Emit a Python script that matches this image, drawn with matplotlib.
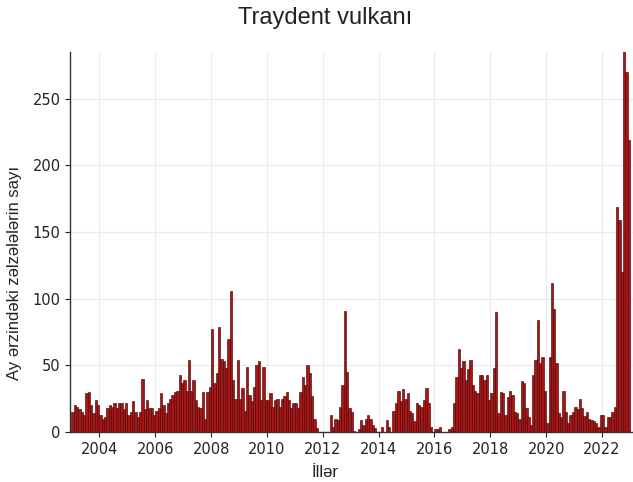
import matplotlib
matplotlib.use("Agg")
import matplotlib.pyplot as plt
import matplotlib.dates as mdates
import pandas as pd

title = "Traydent vulkanı"
xlabel = "İllər"
ylabel = "Ay ərzindəki zəlzələlərin sayı"
start_month = "2003-01-01"

counts_2003_2005 = [15, 20, 19, 17, 15, 13, 29, 30, 20, 14, 24, 20, 13, 10, 11, 18, 20, 19,
                    22, 18, 22, 22, 17, 22, 13, 15, 23, 15, 11, 15, 40, 17, 24]
counts_2005_2008 = [18, 18, 13, 16, 18, 29, 20, 14, 22, 25, 28, 30, 31, 43, 37, 39, 31, 54,
                    31, 39, 24, 19, 18, 30, 10, 30, 34, 77, 37, 44, 79, 55, 53, 48, 70, 106]
counts_2008_2011 = [39, 25, 54, 25, 33, 16, 49, 28, 23, 34, 50, 53, 24, 49, 24, 24, 29, 19,
                    24, 25, 19, 25, 27, 30, 24, 18, 22, 22, 18, 30, 41, 35, 50, 44]
counts_2011_2014 = [27, 10, 3, 0, 0, 0, 0, 0, 13, 4, 10, 9, 19, 35, 91, 45, 18, 15, 1, 0,
                    2, 9, 5, 10, 13, 10, 5, 3, 0, 0, 4, 0, 9, 4]
counts_2014_2017 = [0, 16, 22, 31, 23, 32, 25, 29, 16, 14, 8, 22, 20, 19, 24, 33, 22, 4,
                    0, 2, 2, 4, 0, 0, 0, 2, 4, 22, 41, 62, 48, 53, 39, 47]
counts_2017_2020 = [54, 35, 31, 29, 43, 43, 39, 43, 24, 29, 48, 90, 14, 30, 29, 13, 26, 31,
                    28, 15, 14, 10, 38, 37, 18, 11, 5, 43, 54, 84, 52, 56, 31, 7, 56]
counts_2020_2022 = [112, 92, 52, 14, 11, 31, 15, 7, 13, 15, 19, 17, 25, 18, 12, 15, 10, 9,
                    8, 7, 4, 13, 13, 4, 11, 11, 15, 19, 169, 159, 120, 290, 270, 219]

counts = (counts_2003_2005 + counts_2005_2008 + counts_2008_2011 + counts_2011_2014
          + counts_2014_2017 + counts_2017_2020 + counts_2020_2022)
months = pd.date_range(start_month, periods=len(counts), freq="MS")

fig = plt.figure(figsize=(6.33, 4.82), dpi=100)
ax = fig.add_axes([0.111, 0.104, 0.889, 0.788])

ax.bar(months, counts, width=31, align="edge", color="#aa1414",
       edgecolor="#4a0808", linewidth=0.45, zorder=2)

ax.set_xlim(pd.Timestamp("2002-12-16"), pd.Timestamp("2023-02-10"))
ax.set_ylim(0, 285)
ax.set_yticks([0, 50, 100, 150, 200, 250])
ax.xaxis.set_major_locator(mdates.YearLocator(2))
ax.xaxis.set_major_formatter(mdates.DateFormatter("%Y"))

ax.grid(True, color="#ebebeb", linewidth=0.8, zorder=0)
ax.set_axisbelow(True)
for s in ("top", "right"):
    ax.spines[s].set_visible(False)
for s in ("left", "bottom"):
    ax.spines[s].set_color("#333333")
    ax.spines[s].set_linewidth(1.0)
ax.tick_params(axis="both", labelsize=10.5, colors="#222222", length=3.5)

fig.text(0.513, 0.962, title, fontsize=17, family="Liberation Sans",
         ha="center", va="center", color="#222222")
ax.set_xlabel(xlabel, fontsize=12, family="Liberation Sans", color="#222222")
ax.set_ylabel(ylabel, fontsize=12, family="Liberation Sans", color="#222222")
ax.xaxis.set_label_coords(0.453, -0.088)
ax.yaxis.set_label_coords(-0.085, 0.418)

fig.savefig("out.png", dpi=100)
